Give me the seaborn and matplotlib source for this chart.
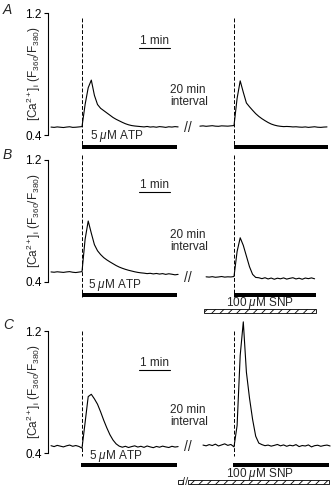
import numpy as np
import matplotlib
matplotlib.use('Agg')
import matplotlib.pyplot as plt
from matplotlib.patches import Rectangle
import seaborn as sns

# sampling step (min), t = 0 is the start of the ATP pulse in each trace
dt = 0.1

# [Ca2+]i ratio traces
a1_t0 = -1.0
a1_ratio = [0.452, 0.450, 0.453, 0.451, 0.449, 0.452, 0.454, 0.450, 0.451, 0.453,
            0.455,
            0.60, 0.71, 0.76, 0.66, 0.60, 0.575, 0.56, 0.545, 0.53, 0.515, 0.503, 0.493,
            0.483, 0.474, 0.467, 0.462, 0.459, 0.457,
            0.455, 0.453, 0.456, 0.452, 0.454, 0.451, 0.455, 0.453, 0.450, 0.454, 0.452,
            0.455, 0.453]
a2_t0 = -1.1
a2_ratio = [0.458, 0.460, 0.457, 0.459, 0.461, 0.458, 0.457, 0.460, 0.459, 0.458, 0.460,
            0.462,
            0.64, 0.755, 0.68, 0.61, 0.585, 0.562, 0.54, 0.522, 0.507, 0.494, 0.482, 0.472,
            0.465, 0.46, 0.457, 0.455,
            0.456, 0.455, 0.453, 0.454, 0.452, 0.451, 0.453, 0.450, 0.452, 0.454, 0.451,
            0.450, 0.452, 0.453]
b1_t0 = -1.0
b1_ratio = [0.466, 0.464, 0.467, 0.465, 0.463, 0.466, 0.468, 0.464, 0.462, 0.465,
            0.468,
            0.68, 0.80, 0.72, 0.645, 0.605, 0.58, 0.56, 0.545, 0.532, 0.52, 0.508, 0.498,
            0.49, 0.483, 0.477, 0.472, 0.467, 0.463, 0.46,
            0.458, 0.455, 0.457, 0.453, 0.456, 0.452, 0.455, 0.450, 0.454, 0.451, 0.447, 0.450]
b2_t0 = -0.9
b2_ratio = [0.434, 0.432, 0.435, 0.431, 0.433, 0.436, 0.432, 0.434, 0.433,
            0.436,
            0.60, 0.69, 0.64, 0.57, 0.50, 0.45, 0.43, 0.428,
            0.422, 0.428, 0.420, 0.426, 0.418, 0.425, 0.421, 0.427, 0.419, 0.424, 0.428,
            0.420, 0.425, 0.418, 0.426, 0.422, 0.427, 0.421]
c1_t0 = -1.0
c1_ratio = [0.448, 0.442, 0.450, 0.445, 0.440, 0.447, 0.452, 0.444, 0.449, 0.443,
            0.432,
            0.60, 0.77, 0.785, 0.755, 0.72, 0.67, 0.615, 0.565, 0.52, 0.485, 0.46, 0.445,
            0.438, 0.444, 0.436, 0.442, 0.447, 0.439, 0.444, 0.437, 0.446, 0.440, 0.435,
            0.443, 0.438, 0.445, 0.440, 0.436, 0.444, 0.439, 0.442]
c2_t0 = -1.0
c2_ratio = [0.452, 0.447, 0.455, 0.449, 0.458, 0.446, 0.453, 0.460, 0.450, 0.456,
            0.44,
            0.58, 1.04, 1.26, 0.93, 0.76, 0.62, 0.51, 0.465,
            0.455, 0.448, 0.452, 0.445, 0.450, 0.456, 0.447, 0.453, 0.444, 0.451, 0.447,
            0.455, 0.442, 0.449, 0.446, 0.453, 0.440, 0.448, 0.451, 0.444, 0.449, 0.452, 0.446]

# drug applications (min, relative to the ATP pulse of each trace)
atp_a = [(0.0, 3.06), (0.0, 3.03)]
atp_b = [(0.0, 3.06), (0.0, 2.65)]
atp_c = [(-0.03, 3.06), (-0.03, 3.06)]
snp_b = (-0.96, 2.65)
snp_c = (-1.47, 3.06)

panel_names = ['A', 'B', 'C']
ytick_vals = [0.4, 1.2]
ytick_text = ['0.4', '1.2']

# ---- layout (pixels of the 333x488 figure) ----
W, H = 333, 488
X0 = 48                # y-axis spine
PX_MIN = 31            # pixels per minute
seg_x = [1.097, 6.0]   # where t = 0 of each trace sits on the axis (min)

panels = {
    'A': dict(top=0, bot=152, p12=13, p04=135, dash=(18, 147), scale=47.5, interval=96,
              atp_txt=136, atp_x=90, black=147, brk=128, label=10),
    'B': dict(top=152, bot=318, p12=160, p04=282, dash=(155, 297), scale=191.5, interval=241,
              atp_txt=285, atp_x=88, black=295, brk=278, snp_txt=303, hatch=311, label=155),
    'C': dict(top=318, bot=488, p12=331, p04=453, dash=(331, 456), scale=370, interval=416,
              atp_txt=456, atp_x=89, black=465, brk=447, snp_txt=474, hatch=482, label=325),
}
traces = {
    'A': [(a1_t0, a1_ratio), (a2_t0, a2_ratio)],
    'B': [(b1_t0, b1_ratio), (b2_t0, b2_ratio)],
    'C': [(c1_t0, c1_ratio), (c2_t0, c2_ratio)],
}
atp_bars = {'A': atp_a, 'B': atp_b, 'C': atp_c}
snp_bars = {'B': snp_b, 'C': snp_c}

sns.set_style('white')
plt.rcParams['font.family'] = ['Liberation Sans', 'DejaVu Sans']
plt.rcParams['mathtext.fontset'] = 'custom'
plt.rcParams['mathtext.rm'] = 'Liberation Sans'
plt.rcParams['mathtext.it'] = 'Liberation Sans:italic'
plt.rcParams['hatch.linewidth'] = 0.6

FS = 8.5
fig = plt.figure(figsize=(W / 100, H / 100), dpi=100)


def ftext(px, py, s, **kw):
    fig.text(px / W, 1 - py / H, s, **kw)


for name in panel_names:
    p = panels[name]
    k = 0.8 / (p['p04'] - p['p12'])
    py2d = lambda py: 1.2 - (py - p['p12']) * k
    ax = fig.add_axes([X0 / W, 1 - p['bot'] / H, (W - X0) / W, (p['bot'] - p['top']) / H])
    ax.set_xlim(0, (W - X0) / PX_MIN)
    ax.set_ylim(py2d(p['bot']), py2d(p['top']))
    ax.patch.set_alpha(0)

    for (t0, vals), off in zip(traces[name], seg_x):
        t = t0 + dt * np.arange(len(vals))
        sns.lineplot(x=t + off, y=vals, ax=ax, color='black', lw=0.8,
                     estimator=None, sort=False)
        ax.plot([off, off], [py2d(p['dash'][0]), py2d(p['dash'][1])], color='black',
                lw=0.7, ls=(0, (4, 2)), clip_on=False)

    bh = 4 * k
    for (on, offt), off in zip(atp_bars[name], seg_x):
        ax.add_patch(Rectangle((off + on, py2d(p['black']) - bh / 2), offt - on, bh,
                               facecolor='black', edgecolor='none', clip_on=False))
    if name in snp_bars:
        on, offt = snp_bars[name]
        ax.add_patch(Rectangle((seg_x[1] + on, py2d(p['hatch']) - bh / 2), offt - on, bh,
                               facecolor='white', edgecolor='black', lw=0.6, hatch='////',
                               clip_on=False))
        ftext(260, p['snp_txt'], r'100 $\mu$M SNP', ha='center', va='center', fontsize=FS)
    if name == 'C':
        # SNP already present during the interval
        ax.add_patch(Rectangle(((178 - X0) / PX_MIN, py2d(p['hatch']) - bh / 2), 5 / PX_MIN, bh,
                               facecolor='white', edgecolor='black', lw=0.6, clip_on=False))
        ftext(185.5, p['hatch'], '//', ha='center', va='center', fontsize=8)

    # 1 min scale bar
    sy = py2d(p['scale'])
    ax.plot([(139 - X0) / PX_MIN, (139 - X0) / PX_MIN + 1.0], [sy, sy], color='black', lw=0.8)
    ftext(155, p['scale'] - 7, '1 min', ha='center', va='center', fontsize=FS)
    ftext(170, p['interval'], '20 min\ninterval', ha='left', va='center', fontsize=FS,
          linespacing=1.0)
    ftext(p['atp_x'], p['atp_txt'], r'5 $\mu$M ATP', ha='left', va='center', fontsize=FS)
    ftext(188, p['brk'], '//', ha='center', va='center', fontsize=10)

    # axis
    for s in ['top', 'right', 'bottom']:
        ax.spines[s].set_visible(False)
    ax.spines['left'].set_bounds(0.4, 1.2)
    ax.spines['left'].set_linewidth(0.8)
    ax.spines['left'].set_color('black')
    ax.set_xticks([])
    ax.set_yticks(ytick_vals)
    ax.set_yticklabels(ytick_text, fontsize=FS)
    ax.tick_params(axis='y', left=True, direction='out', length=3, width=0.8, pad=1.5,
                   colors='black')
    ax.set_xlabel('')
    ax.set_ylabel('')

    ftext(34, (p['p12'] + p['p04']) / 2,
          r'[Ca$^{2+}$]$_\mathregular{i}$ (F$_\mathregular{360}$/F$_\mathregular{380}$)',
          rotation=90, ha='center', va='center', fontsize=FS)
    ftext(3, p['label'], name, ha='left', va='center', fontsize=10, style='italic')

fig.savefig('out.png', dpi=100)
